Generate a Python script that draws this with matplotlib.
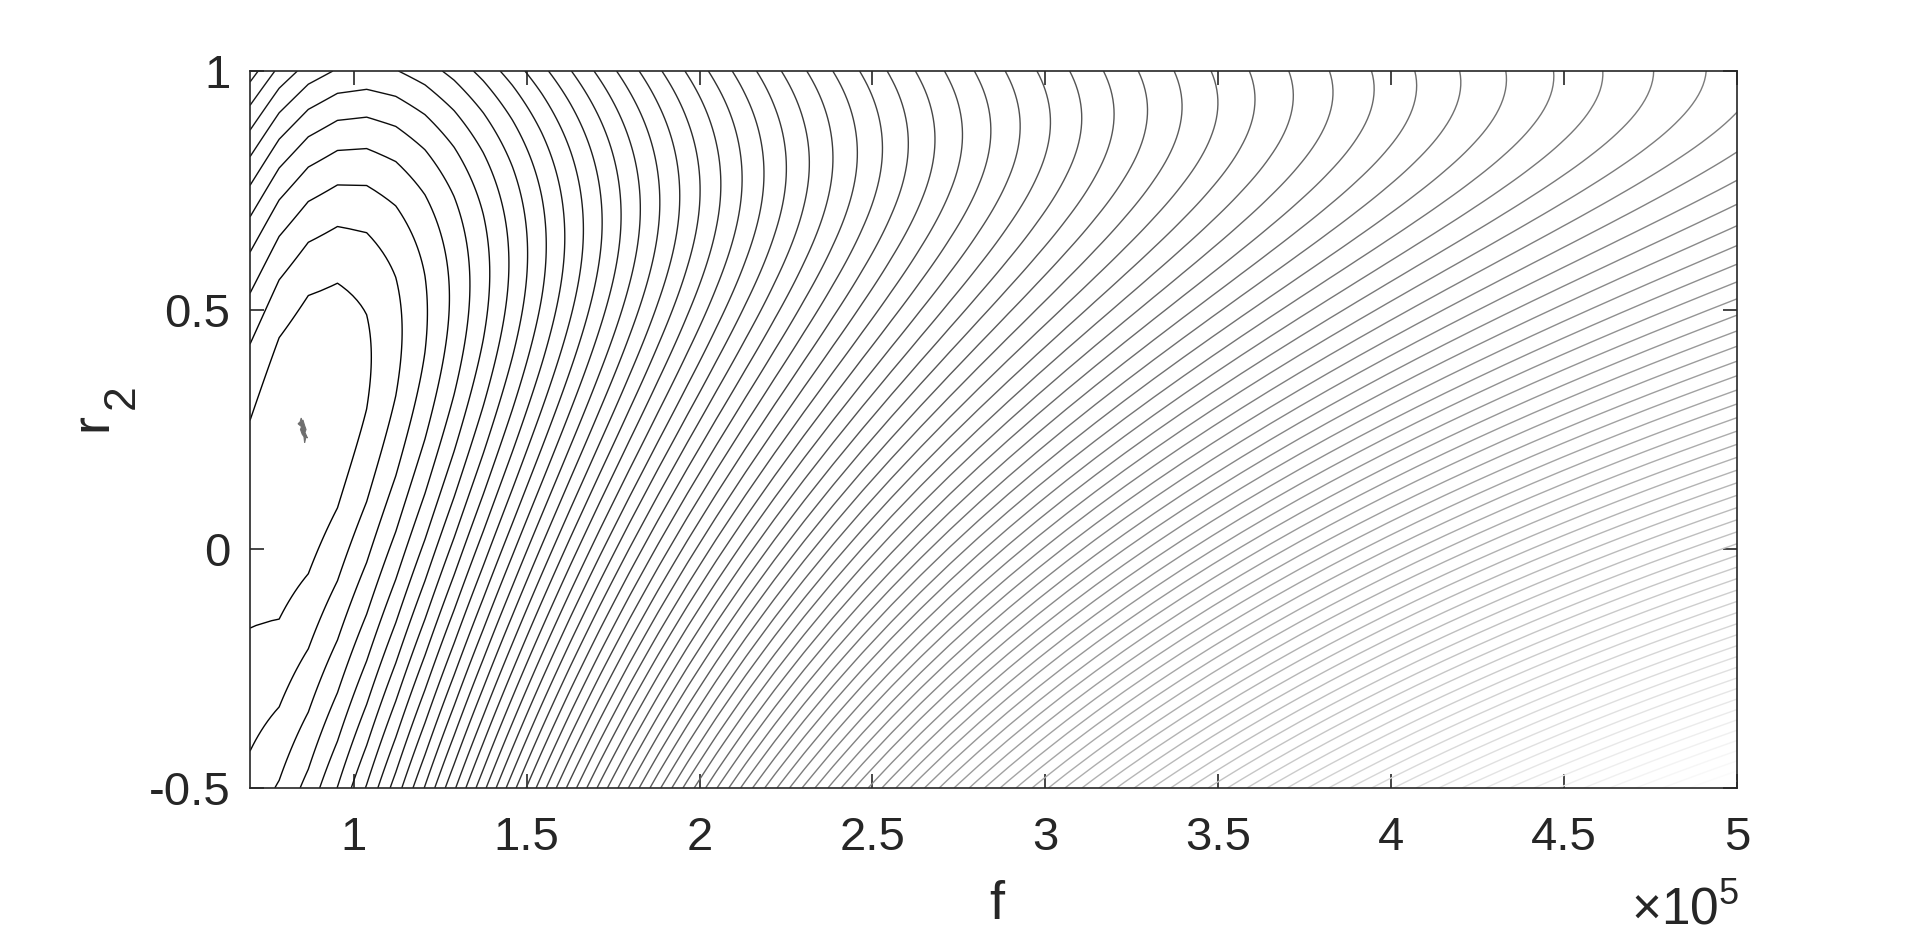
import numpy as np
import matplotlib
matplotlib.use("Agg")
import matplotlib.pyplot as plt
from matplotlib.ticker import FixedLocator, FixedFormatter

plt.rcParams['font.family'] = ['Liberation Sans', 'DejaVu Sans']
plt.rcParams['mathtext.fontset'] = 'custom'
plt.rcParams['mathtext.rm'] = 'Liberation Sans'
plt.rcParams['mathtext.it'] = 'Liberation Sans'

# Domaine et grille de calcul (f en unités de 1e5 Hz)
f_lim = [0.7, 5.0]
r2_lim = [-0.5, 1.0]
n_f, n_r2 = 52, 151

# Paramètres de la surface d'erreur
f_opt, r2_opt = 0.853, 0.249              # position du minimum
nez_inf, nez_a, nez_b = 1.2, 0.98, 0.177  # ligne des "nez" : r2 = nez_inf - a/(f+b)
h_amp, h_larg = 13.5, 0.723               # croissance de l'erreur le long de cette ligne
c_bas0, c_bas1 = 8.6, 12.6                # raideur sous la ligne : c0 + c1*ln(f/0.96)
eps, p_bas = 0.25, 1.4                    # forme sous la ligne
c_haut, e_haut = 15.0, 0.77               # raideur au-dessus : c*(f/0.96)^e

# Nuage gris autour du minimum
blob_f = [0.848, 0.851, 0.853, 0.858, 0.862, 0.859, 0.866, 0.862, 0.858, 0.856, 0.851, 0.846, 0.849, 0.839, 0.845]
blob_r2 = [0.274, 0.266, 0.270, 0.258, 0.250, 0.244, 0.232, 0.236, 0.222, 0.235, 0.240, 0.250, 0.256, 0.262, 0.266]

x_ticks = [1, 1.5, 2, 2.5, 3, 3.5, 4, 4.5, 5]
x_labels = ['1', '1.5', '2', '2.5', '3', '3.5', '4', '4.5', '5']
y_ticks = [-0.5, 0, 0.5, 1]
y_labels = ['-0.5', '0', '0.5', '1']

# Surface d'erreur
f = np.linspace(f_lim[0], f_lim[1], n_f)
r2 = np.linspace(r2_lim[0], r2_lim[1], n_r2)
F, R2 = np.meshgrid(f, r2)

u = F - f_opt
H = h_amp * np.log1p((u / h_larg) ** 2)
r_nez = nez_inf - nez_a / (F + nez_b)
d = R2 - r_nez
c_b = c_bas0 + c_bas1 * np.log(F / 0.96)
S_bas = c_b * ((d ** 2 + eps ** 2) ** (p_bas / 2) - eps ** p_bas)
S_haut = c_haut * (F / 0.96) ** e_haut * d ** 2
Z = H + np.where(d > 0, S_haut, S_bas)

niveaux = np.arange(1, Z.max(), 1.0)

fig = plt.figure(figsize=(19.2, 9.42), dpi=100)
ax = fig.add_axes([250 / 1920, 1 - 788 / 942, 1487 / 1920, 717 / 942])

ax.contour(F, R2, Z, levels=niveaux, cmap='gray', vmin=0, vmax=Z.max(),
           linewidths=1.0)
ax.fill(blob_f, blob_r2, color='#6e6e6e', linewidth=0.8, edgecolor='#6e6e6e')

ax.set_xlim(f_lim)
ax.set_ylim(r2_lim)
ax.xaxis.set_major_locator(FixedLocator(x_ticks))
ax.xaxis.set_major_formatter(FixedFormatter(x_labels))
ax.yaxis.set_major_locator(FixedLocator(y_ticks))
ax.yaxis.set_major_formatter(FixedFormatter(y_labels))

col = '#262626'
for s in ax.spines.values():
    s.set_color(col)
    s.set_linewidth(1.2)
ax.tick_params(direction='in', length=10, width=1.2, colors=col, labelsize=34,
               top=True, right=True)
ax.tick_params(axis='x', pad=20)
ax.tick_params(axis='y', pad=14)

# libellés des axes (r avec un indice 2 presque pleine taille, comme sur l'original)
fig.text(997 / 1920, 1 - 905 / 942, 'f', ha='center', va='center', fontsize=39, color=col)
fig.text(92 / 1920, 1 - 422 / 942, 'r', ha='center', va='center', fontsize=39,
         color=col, rotation=90)
fig.text(122 / 1920, 1 - 397 / 942, '2', ha='center', va='center', fontsize=32,
         color=col, rotation=90)

fig.text(1739 / 1920, 1 - 936 / 942, r'$\times10^{5}$', ha='right', va='bottom',
         fontsize=37, color=col)

fig.savefig('out.png', dpi=100, facecolor='white')
